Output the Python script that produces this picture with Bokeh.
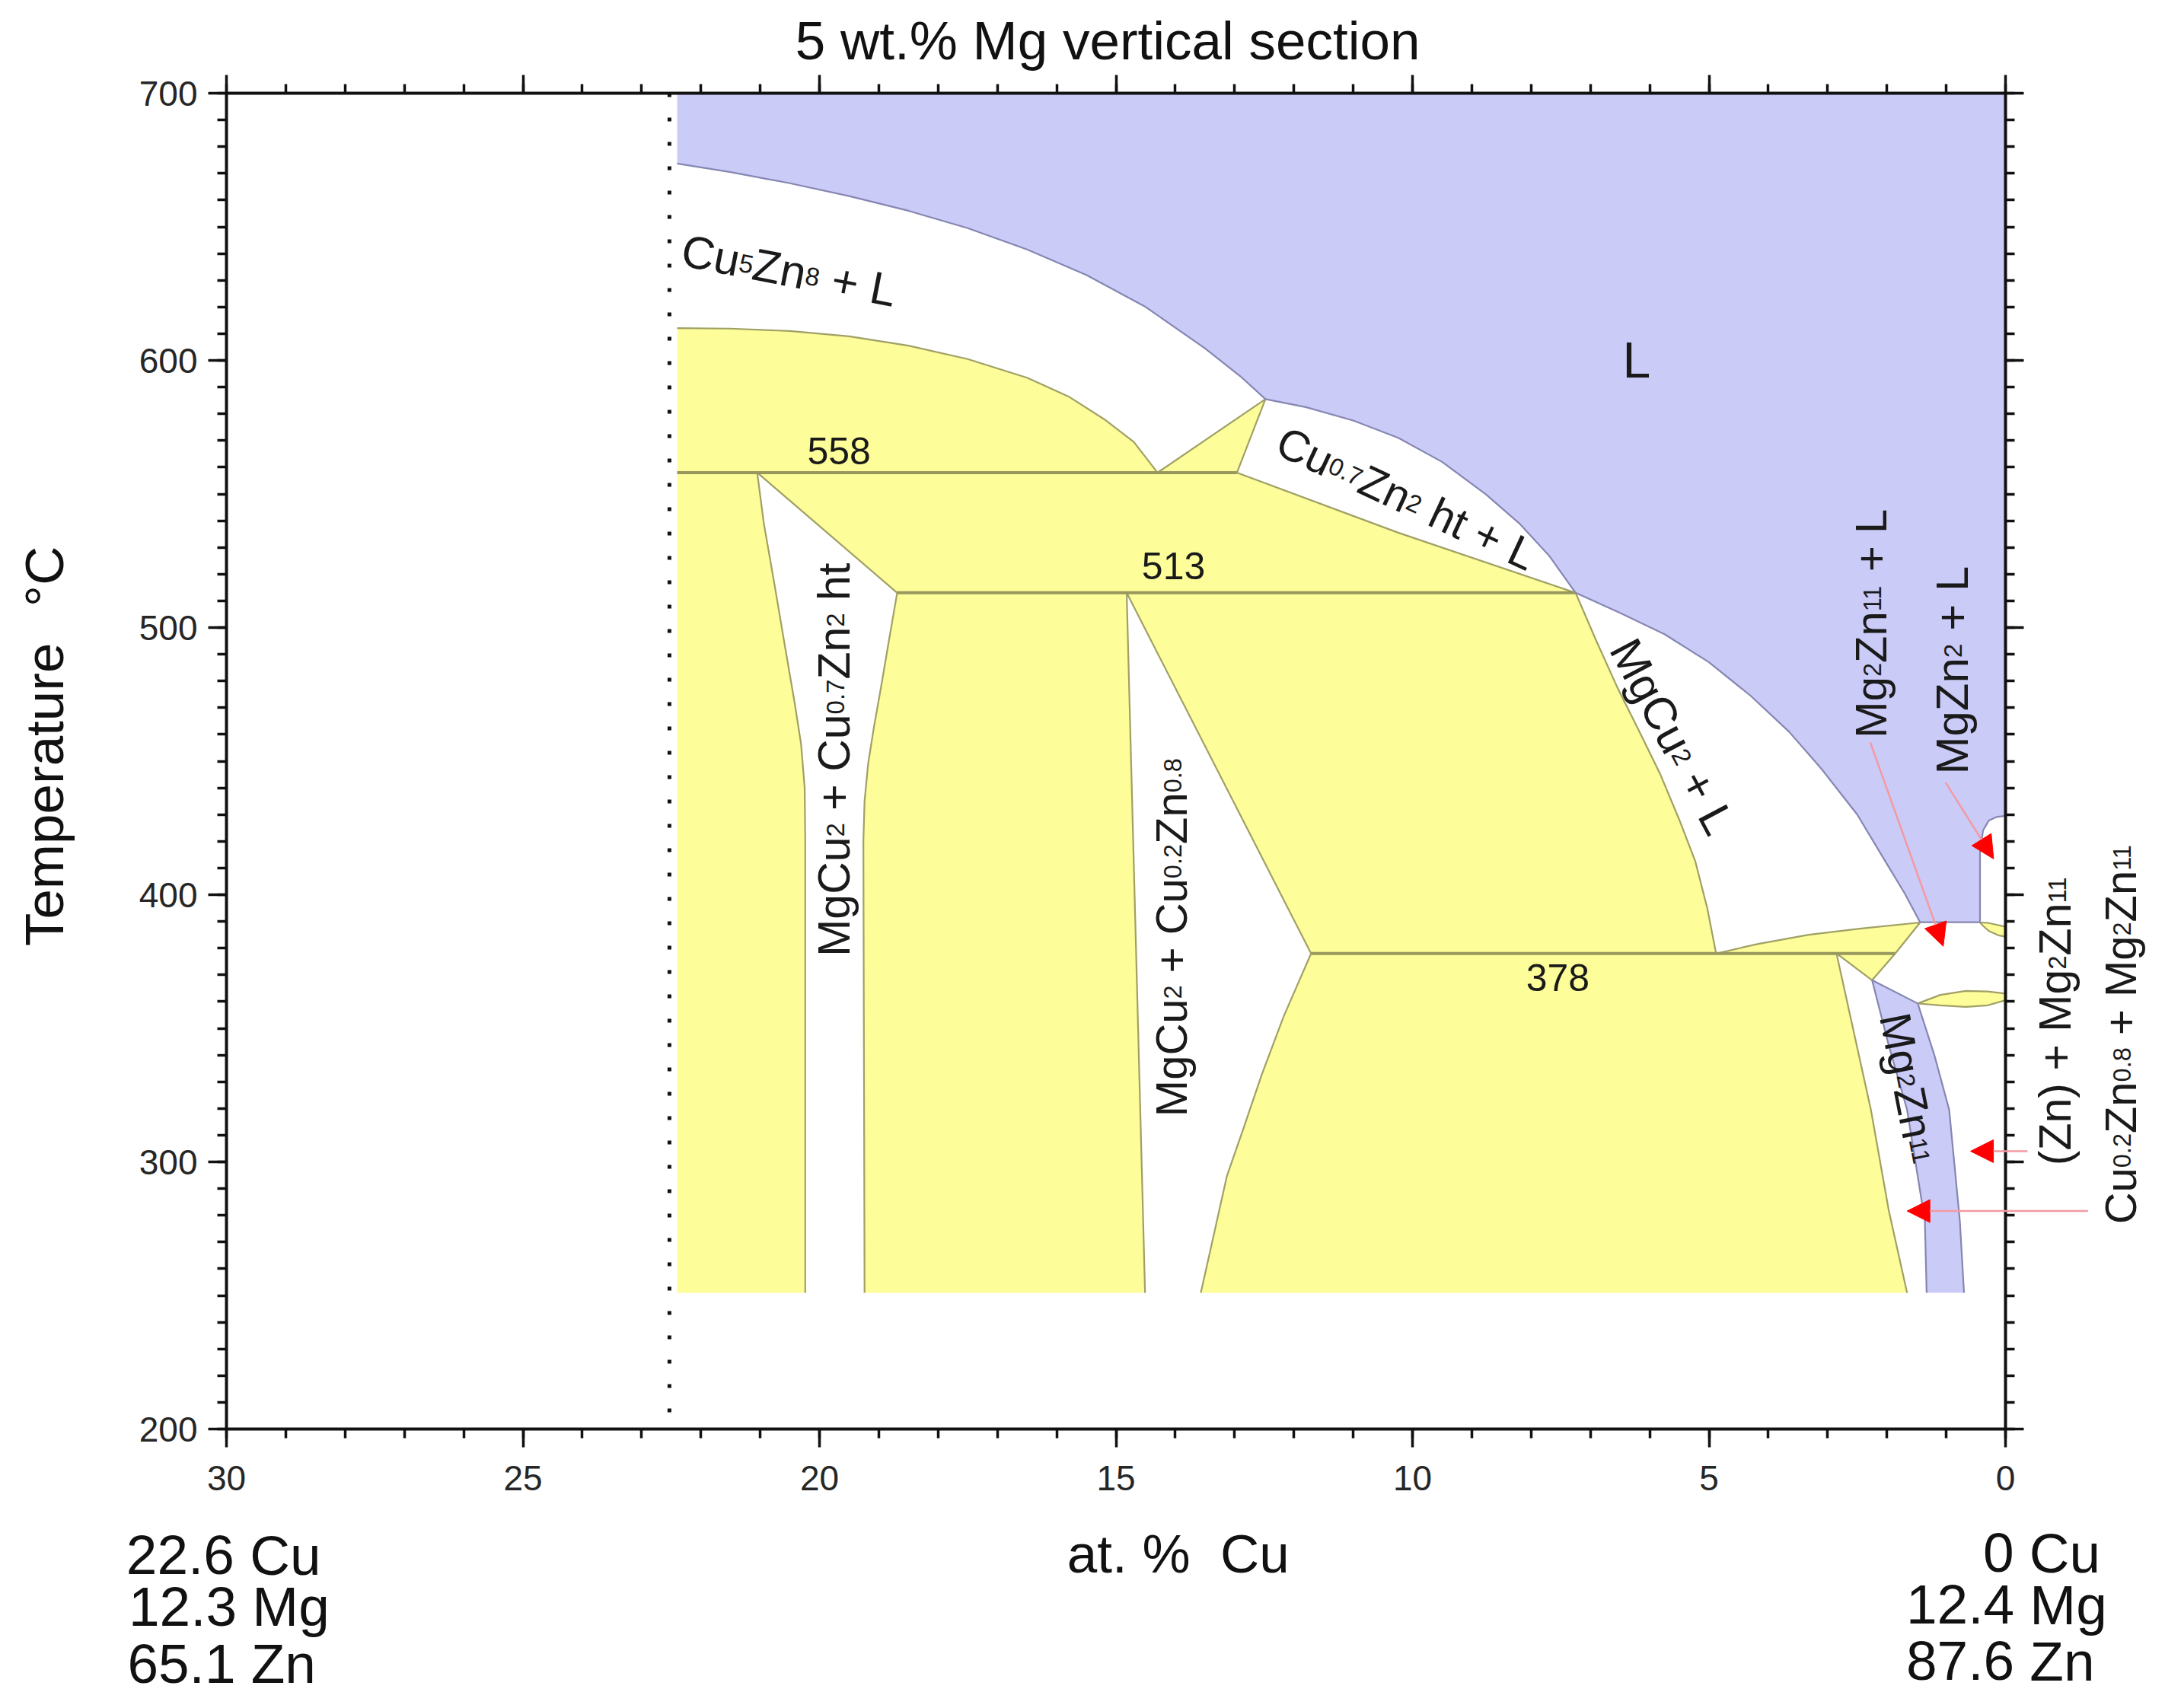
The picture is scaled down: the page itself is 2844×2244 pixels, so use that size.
import math
from bokeh.plotting import figure
from bokeh.models import Range1d, LinearAxis, SingleIntervalTicker, Label, Arrow, NormalHead
from bokeh.embed import file_html
from bokeh.resources import INLINE

FONT = "Liberation Sans"
TEXT_COLOR = "#1a1a1a"

# ---------------- chart values (at.% Cu, temperature in deg C) ----------------
X_AXIS = [30, 0]          # composition axis runs from 30 (left) to 0 (right)
T_AXIS = [200, 700]
X_TICK_STEP = 5
T_TICK_STEP = 100

SECTION_X = [22.53, 22.53]          # start of the section (22.6 Cu)
SECTION_T = [700, 200]
CALC_LEFT_X = 22.4
CALC_BOTTOM_T = 251

# liquidus pieces
LIQ_A_X = [22.40, 21.5, 20.5, 19.5, 18.5, 17.5, 16.5, 15.5, 14.5, 13.5, 12.9, 12.48]
LIQ_A_T = [673.7, 670.5, 666.3, 661.5, 656.0, 649.5, 641.5, 632.0, 620.0, 604.5, 594.0, 585.5]
LIQ_B_X = [12.48, 11.8, 11.0, 10.24, 9.5, 8.76, 8.2, 7.7, 7.25]
LIQ_B_T = [585.5, 582.5, 577.5, 571.0, 562.0, 549.8, 539.0, 527.0, 513.0]
LIQ_C_X = [7.25, 6.5, 5.75, 5.0, 4.3, 3.65, 3.1, 2.5, 2.0, 1.7, 1.44]
LIQ_C_T = [513.0, 505.5, 497.5, 487.0, 474.5, 461.0, 447.0, 430.0, 411.5, 400.5, 389.7]
POCKET_X = [0.43, 0.43, 0.38, 0.28, 0.15, 0.0]
POCKET_T = [389.7, 415.8, 424.0, 427.8, 429.1, 429.5]
JUNCTION_X = [1.44, 0.43]
JUNCTION_T = [389.7, 389.7]

# phase boundaries
DOME_X = [22.40, 21.5, 20.5, 19.5, 18.5, 17.5, 16.5, 15.8, 15.2, 14.7, 14.3]
DOME_T = [612.1, 611.9, 611.0, 609.0, 605.5, 600.5, 593.5, 586.5, 578.0, 569.5, 558.0]
PERI_X = [14.30, 12.48, 12.96]
PERI_T = [558.0, 585.5, 558.0]
CU07_LOW_X = [12.96, 10.24, 7.25]
CU07_LOW_T = [558.0, 535.5, 513.0]
MGCU2_SOLV_X = [7.25, 6.9, 6.55, 6.15, 5.82, 5.5, 5.23, 5.03, 4.88]
MGCU2_SOLV_T = [513.0, 495.0, 477.8, 460.0, 445.0, 428.0, 412.4, 395.0, 378.0]
WR1_LEFT_X = [21.05, 20.94, 20.75, 20.58, 20.42, 20.31, 20.25, 20.24, 20.24]
WR1_LEFT_T = [558.0, 539.2, 515.0, 492.7, 472.0, 456.3, 440.0, 420.0, 251.0]
WR1_RIGHT_X = [21.05, 18.69, 18.83, 18.96, 19.08, 19.18, 19.24, 19.26, 19.24]
WR1_RIGHT_T = [558.0, 513.0, 495.0, 478.0, 463.0, 449.0, 435.0, 420.0, 251.0]
WR2_LEFT_X = [14.82, 14.51]
WR2_LEFT_T = [513.0, 251.0]
WR2_RIGHT_X = [14.82, 11.71]
WR2_RIGHT_T = [513.0, 378.0]
Y5_LEFT_X = [11.71, 12.17, 12.54, 12.84, 13.13, 13.35, 13.57]
Y5_LEFT_T = [378.0, 354.6, 332.8, 313.2, 294.7, 272.8, 251.0]
Y5_RIGHT_X = [2.85, 2.27, 1.97, 1.66]
Y5_RIGHT_T = [378.0, 319.5, 282.0, 251.0]
SLIVER_X = [4.88, 4.17, 3.32, 2.46, 1.44, 1.86]
SLIVER_T = [378.0, 381.6, 385.0, 387.3, 389.6, 378.0]
TRI_X = [2.85, 2.25, 1.86]
TRI_T = [378.0, 368.0, 378.0]
BAND_LEFT_X = [2.25, 1.97, 1.66, 1.36, 1.33]
BAND_LEFT_T = [368.0, 343.7, 319.5, 277.9, 251.0]
BAND_TOP_X = [2.25, 1.48]
BAND_TOP_T = [368.0, 359.3]
BAND_RIGHT_X = [1.48, 1.20, 0.95, 0.77, 0.70]
BAND_RIGHT_T = [359.3, 340.0, 319.5, 277.9, 251.0]
LENS_LOW_X = [1.48, 1.10, 0.67, 0.30, 0.0, 0.0, 0.30, 0.67, 1.10, 1.48]
LENS_LOW_T = [359.3, 362.5, 364.0, 363.8, 363.0, 360.5, 358.6, 358.0, 358.6, 359.3]
LENS_UP_X = [0.43, 0.28, 0.12, 0.0, 0.0, 0.12, 0.28, 0.38, 0.43]
LENS_UP_T = [389.6, 389.4, 388.6, 388.0, 384.3, 384.8, 386.4, 388.4, 389.6]

# invariant reactions
INV_T = [558, 513, 378]
INV_X_FROM = [22.4, 18.69, 11.71]
INV_X_TO = [12.96, 7.25, 1.86]

# pointer arrows (start -> tip)
ARROW_X0 = [2.28, 1.01, -0.37, -1.39]
ARROW_T0 = [457.0, 442.0, 304.0, 281.6]
ARROW_X1 = [1.05, 0.20, 0.59, 1.66]
ARROW_T1 = [380.7, 413.4, 304.0, 281.6]

# labels: (markup, x, T, font px, angle deg)
REGION_LABELS = [
    ("Cu_{5}Zn_{8} + L", 20.50, 635.2, 60, -11),
    ("Cu_{0.7}Zn_{2} ht + L", 10.07, 549.9, 58, -25),
    ("MgCu_{2} + L", 5.55, 460.0, 60, -62),
    ("MgCu_{2} + Cu_{0.7}Zn_{2} ht", 19.83, 450.5, 59, 90),
    ("MgCu_{2} + Cu_{0.2}Zn_{0.8}", 14.14, 384.0, 58, 90),
    ("Mg_{2}Zn_{11} + L", 2.34, 501.5, 58, 90),
    ("MgZn_{2} + L", 0.98, 484.0, 60, 90),
    ("Mg_{2}Zn_{11}", 1.55, 327.5, 58, -79),
    ("(Zn) + Mg_{2}Zn_{11}", -0.77, 353.0, 59, 90),
    ("Cu_{0.2}Zn_{0.8} + Mg_{2}Zn_{11}", -1.87, 348.0, 58, 90),
    ("L", 6.22, 601.9, 66, 0),
    ("558", 19.67, 567.4, 50, 0),
    ("513", 14.03, 524.6, 50, 0),
    ("378", 7.55, 370.2, 50, 0),
]
TITLE = ("5 wt.% Mg vertical section", 15.14, 721.7, 71, 0)
X_TITLE = ("at. %  Cu", 13.95, 155.4, 71, 0)
Y_TITLE = ("Temperature  °C", 33.16, 455.6, 71, 90)
LEFT_COMP = ["22.6 Cu", "12.3 Mg", "65.1 Zn"]
LEFT_COMP_X = [31.69, 31.65, 31.67]
LEFT_COMP_T = [147.3, 128.1, 106.8]
RIGHT_COMP = ["0 Cu", "12.4 Mg", "87.6 Zn"]
RIGHT_COMP_X = [-1.60, 1.675, 1.675]
RIGHT_COMP_T = [148.2, 128.9, 107.7]
RIGHT_COMP_ALIGN = ["right", "left", "left"]
COMP_FONT = 73

# ---------------- styling / geometry ----------------
BLUE = "#cbcbf8"
YELLOW = "#fdfd99"
BLUE_EDGE = "#8686b2"
OLIVE_EDGE = "#a0a066"
INV_EDGE = "#98985e"

CANVAS_W, CANVAS_H = 2828, 2228
BOX_LEFT, BOX_TOP, BOX_W, BOX_H = 297, 122, 2337, 1755   # pixel box of the diagram axes
KX = BOX_W / abs(X_AXIS[0] - X_AXIS[1])
KY = BOX_H / (T_AXIS[1] - T_AXIS[0])
x_lo = X_AXIS[0] + BOX_LEFT / KX
x_hi = X_AXIS[1] - (CANVAS_W - BOX_LEFT - BOX_W) / KX
t_hi = T_AXIS[1] + BOX_TOP / KY
t_lo = T_AXIS[0] - (CANVAS_H - BOX_TOP - BOX_H) / KY

p = figure(frame_width=CANVAS_W, frame_height=CANVAS_H,
           x_range=Range1d(x_lo, x_hi), y_range=Range1d(t_lo, t_hi),
           output_backend="svg", toolbar_location=None,
           x_axis_location=None, y_axis_location=None, min_border=0)
p.outline_line_color = None
p.grid.grid_line_color = None
p.background_fill_color = "white"
p.border_fill_color = "white"


def make_axis(kind, side, labels, loc):
    step = X_TICK_STEP if kind == "x" else T_TICK_STEP
    nminor = 5 if kind == "x" else 10
    bounds = (min(X_AXIS), max(X_AXIS)) if kind == "x" else (T_AXIS[0], T_AXIS[1])
    ax = LinearAxis(ticker=SingleIntervalTicker(interval=step, num_minor_ticks=nminor),
                    fixed_location=loc, bounds=bounds)
    ax.axis_line_width = 4
    ax.axis_line_color = "#111111"
    ax.major_tick_line_width = 3.5
    ax.minor_tick_line_width = 3.5
    ax.major_tick_line_color = "#111111"
    ax.minor_tick_line_color = "#111111"
    ax.major_tick_out = 24
    ax.major_tick_in = 0
    ax.minor_tick_out = 12
    ax.minor_tick_in = 0
    ax.major_label_standoff = 24 if kind == "x" else 14
    ax.major_label_text_font = FONT
    ax.major_label_text_font_size = "46px"
    ax.major_label_text_color = "#262626" if labels else None
    p.add_layout(ax, side)


make_axis("x", "below", True, T_AXIS[0])
make_axis("x", "above", False, T_AXIS[1])
make_axis("y", "left", True, X_AXIS[0])
make_axis("y", "right", False, X_AXIS[1])


def rev(a):
    return list(reversed(a))


# ---- filled regions ----
l_x = [CALC_LEFT_X, X_AXIS[1]] + rev(POCKET_X) + rev(LIQ_C_X) + rev(LIQ_B_X)[1:] + rev(LIQ_A_X)[1:]
l_t = [T_AXIS[1], T_AXIS[1]] + rev(POCKET_T) + rev(LIQ_C_T) + rev(LIQ_B_T)[1:] + rev(LIQ_A_T)[1:]
p.patch(l_x, l_t, fill_color=BLUE, line_color=None)

y_left_x = DOME_X + WR1_LEFT_X + [CALC_LEFT_X]
y_left_t = DOME_T + WR1_LEFT_T + [CALC_BOTTOM_T]
y3_x = [WR1_LEFT_X[0]] + CU07_LOW_X + MGCU2_SOLV_X[1:] + WR2_RIGHT_X[::-1] + [WR1_RIGHT_X[1]]
y3_t = [WR1_LEFT_T[0]] + CU07_LOW_T + MGCU2_SOLV_T[1:] + WR2_RIGHT_T[::-1] + [WR1_RIGHT_T[1]]
y4_x = [WR1_RIGHT_X[1]] + WR2_LEFT_X + rev(WR1_RIGHT_X[1:])
y4_t = [WR1_RIGHT_T[1]] + WR2_LEFT_T + rev(WR1_RIGHT_T[1:])
y5_x = [Y5_LEFT_X[0]] + Y5_RIGHT_X + rev(Y5_LEFT_X)
y5_t = [Y5_LEFT_T[0]] + Y5_RIGHT_T + rev(Y5_LEFT_T)
yellow_xs = [y_left_x, PERI_X, y3_x, y4_x, y5_x, SLIVER_X, TRI_X, LENS_LOW_X, LENS_UP_X]
yellow_ts = [y_left_t, PERI_T, y3_t, y4_t, y5_t, SLIVER_T, TRI_T, LENS_LOW_T, LENS_UP_T]
p.patches(yellow_xs, yellow_ts, fill_color=YELLOW, line_color=None)

band_x = BAND_LEFT_X + rev(BAND_RIGHT_X)
band_t = BAND_LEFT_T + rev(BAND_RIGHT_T)
p.patch(band_x, band_t, fill_color=BLUE, line_color=None)

# ---- boundary lines ----
olive_xs = [DOME_X, PERI_X, CU07_LOW_X, MGCU2_SOLV_X, WR1_LEFT_X, WR1_RIGHT_X,
            WR2_LEFT_X, WR2_RIGHT_X, Y5_LEFT_X, Y5_RIGHT_X, SLIVER_X, TRI_X,
            LENS_LOW_X, LENS_UP_X]
olive_ts = [DOME_T, PERI_T, CU07_LOW_T, MGCU2_SOLV_T, WR1_LEFT_T, WR1_RIGHT_T,
            WR2_LEFT_T, WR2_RIGHT_T, Y5_LEFT_T, Y5_RIGHT_T, SLIVER_T, TRI_T,
            LENS_LOW_T, LENS_UP_T]
p.multi_line(olive_xs, olive_ts, line_color=OLIVE_EDGE, line_width=2.2)

blue_xs = [LIQ_A_X, LIQ_B_X, LIQ_C_X, POCKET_X, JUNCTION_X, BAND_LEFT_X, BAND_TOP_X, BAND_RIGHT_X]
blue_ts = [LIQ_A_T, LIQ_B_T, LIQ_C_T, POCKET_T, JUNCTION_T, BAND_LEFT_T, BAND_TOP_T, BAND_RIGHT_T]
p.multi_line(blue_xs, blue_ts, line_color=BLUE_EDGE, line_width=2.2)

p.multi_line([[a, b] for a, b in zip(INV_X_FROM, INV_X_TO)], [[t, t] for t in INV_T],
             line_color=INV_EDGE, line_width=4)

p.line(SECTION_X, SECTION_T, line_color="#111111", line_width=5, line_dash="5 27")

# ---- arrows ----
for x0, t0, x1, t1 in zip(ARROW_X0, ARROW_T0, ARROW_X1, ARROW_T1):
    p.add_layout(Arrow(end=NormalHead(size=30, fill_color="#ff0000", line_color="#ff0000", line_width=1),
                       x_start=x0, y_start=t0, x_end=x1, y_end=t1,
                       line_color="#f39aa2", line_width=2.5))

# ---- text ----
W = {' ': 0.278, '(': 0.333, ')': 0.333, '+': 0.584, '.': 0.278, '%': 0.889, '°': 0.4,
     'C': 0.722, 'L': 0.556, 'M': 0.833, 'T': 0.611, 'Z': 0.611,
     'a': 0.556, 'c': 0.5, 'e': 0.556, 'g': 0.556, 'h': 0.556, 'i': 0.222, 'l': 0.222,
     'm': 0.833, 'n': 0.556, 'o': 0.556, 'p': 0.556, 'r': 0.333, 's': 0.5, 't': 0.278,
     'u': 0.556, 'v': 0.5, 'w': 0.722}
SUB_SCALE = 0.56
SUB_DROP = 0.03
CAP_MID = 0.358
BASE_FIX = 0.26     # rendered alphabetic baseline sits lower than requested


def strw(s):
    return sum(W.get(c, 0.556) for c in s)


def parse(markup):
    parts, i = [], 0
    while i < len(markup):
        j = markup.find('_{', i)
        if j < 0:
            parts.append((markup[i:], False))
            break
        if j > i:
            parts.append((markup[i:j], False))
        k = markup.find('}', j)
        parts.append((markup[j + 2:k], True))
        i = k + 1
    return parts


def rich_label(markup, xc, yc, F, ang, color=TEXT_COLOR, align="center", vmode="center"):
    items = []
    for text, sub in parse(markup):
        size = F * SUB_SCALE if sub else F
        words = text.split(' ')
        for wi, wd in enumerate(words):
            if wi > 0:
                items.append((None, sub, W[' '] * size))
            if wd:
                items.append((wd, sub, strw(wd) * size))
    total = sum(it[2] for it in items)
    along = {"center": -total / 2, "left": 0.0, "right": -total}[align]
    base = -CAP_MID * F if vmode == "center" else 0.0
    th = math.radians(ang)
    ux, uy = math.cos(th), math.sin(th)
    nx, ny = -math.sin(th), math.cos(th)
    for text, sub, w in items:
        if text is not None:
            size = F * SUB_SCALE if sub else F
            perp = base + BASE_FIX * F - (SUB_DROP * F if sub else 0)
            dx = along * ux + perp * nx
            dy = along * uy + perp * ny
            p.add_layout(Label(x=xc - dx / KX, y=yc + dy / KY, text=text,
                               angle=ang, angle_units="deg",
                               text_font=FONT, text_font_size=f"{size:.1f}px",
                               text_color=color, text_align="left",
                               text_baseline="alphabetic"))
        along += w


for lab in REGION_LABELS:
    rich_label(*lab)
rich_label(*TITLE, color="#111111")
rich_label(*X_TITLE, color="#111111")
rich_label(*Y_TITLE, color="#111111")

for txt, x, t in zip(LEFT_COMP, LEFT_COMP_X, LEFT_COMP_T):
    rich_label(txt, x, t, COMP_FONT, 0, color="#111111", align="left", vmode="baseline")
for txt, x, t, al in zip(RIGHT_COMP, RIGHT_COMP_X, RIGHT_COMP_T, RIGHT_COMP_ALIGN):
    rich_label(txt, x, t, COMP_FONT, 0, color="#111111", align=al, vmode="baseline")

open("out.html", "w").write(file_html(p, INLINE))
